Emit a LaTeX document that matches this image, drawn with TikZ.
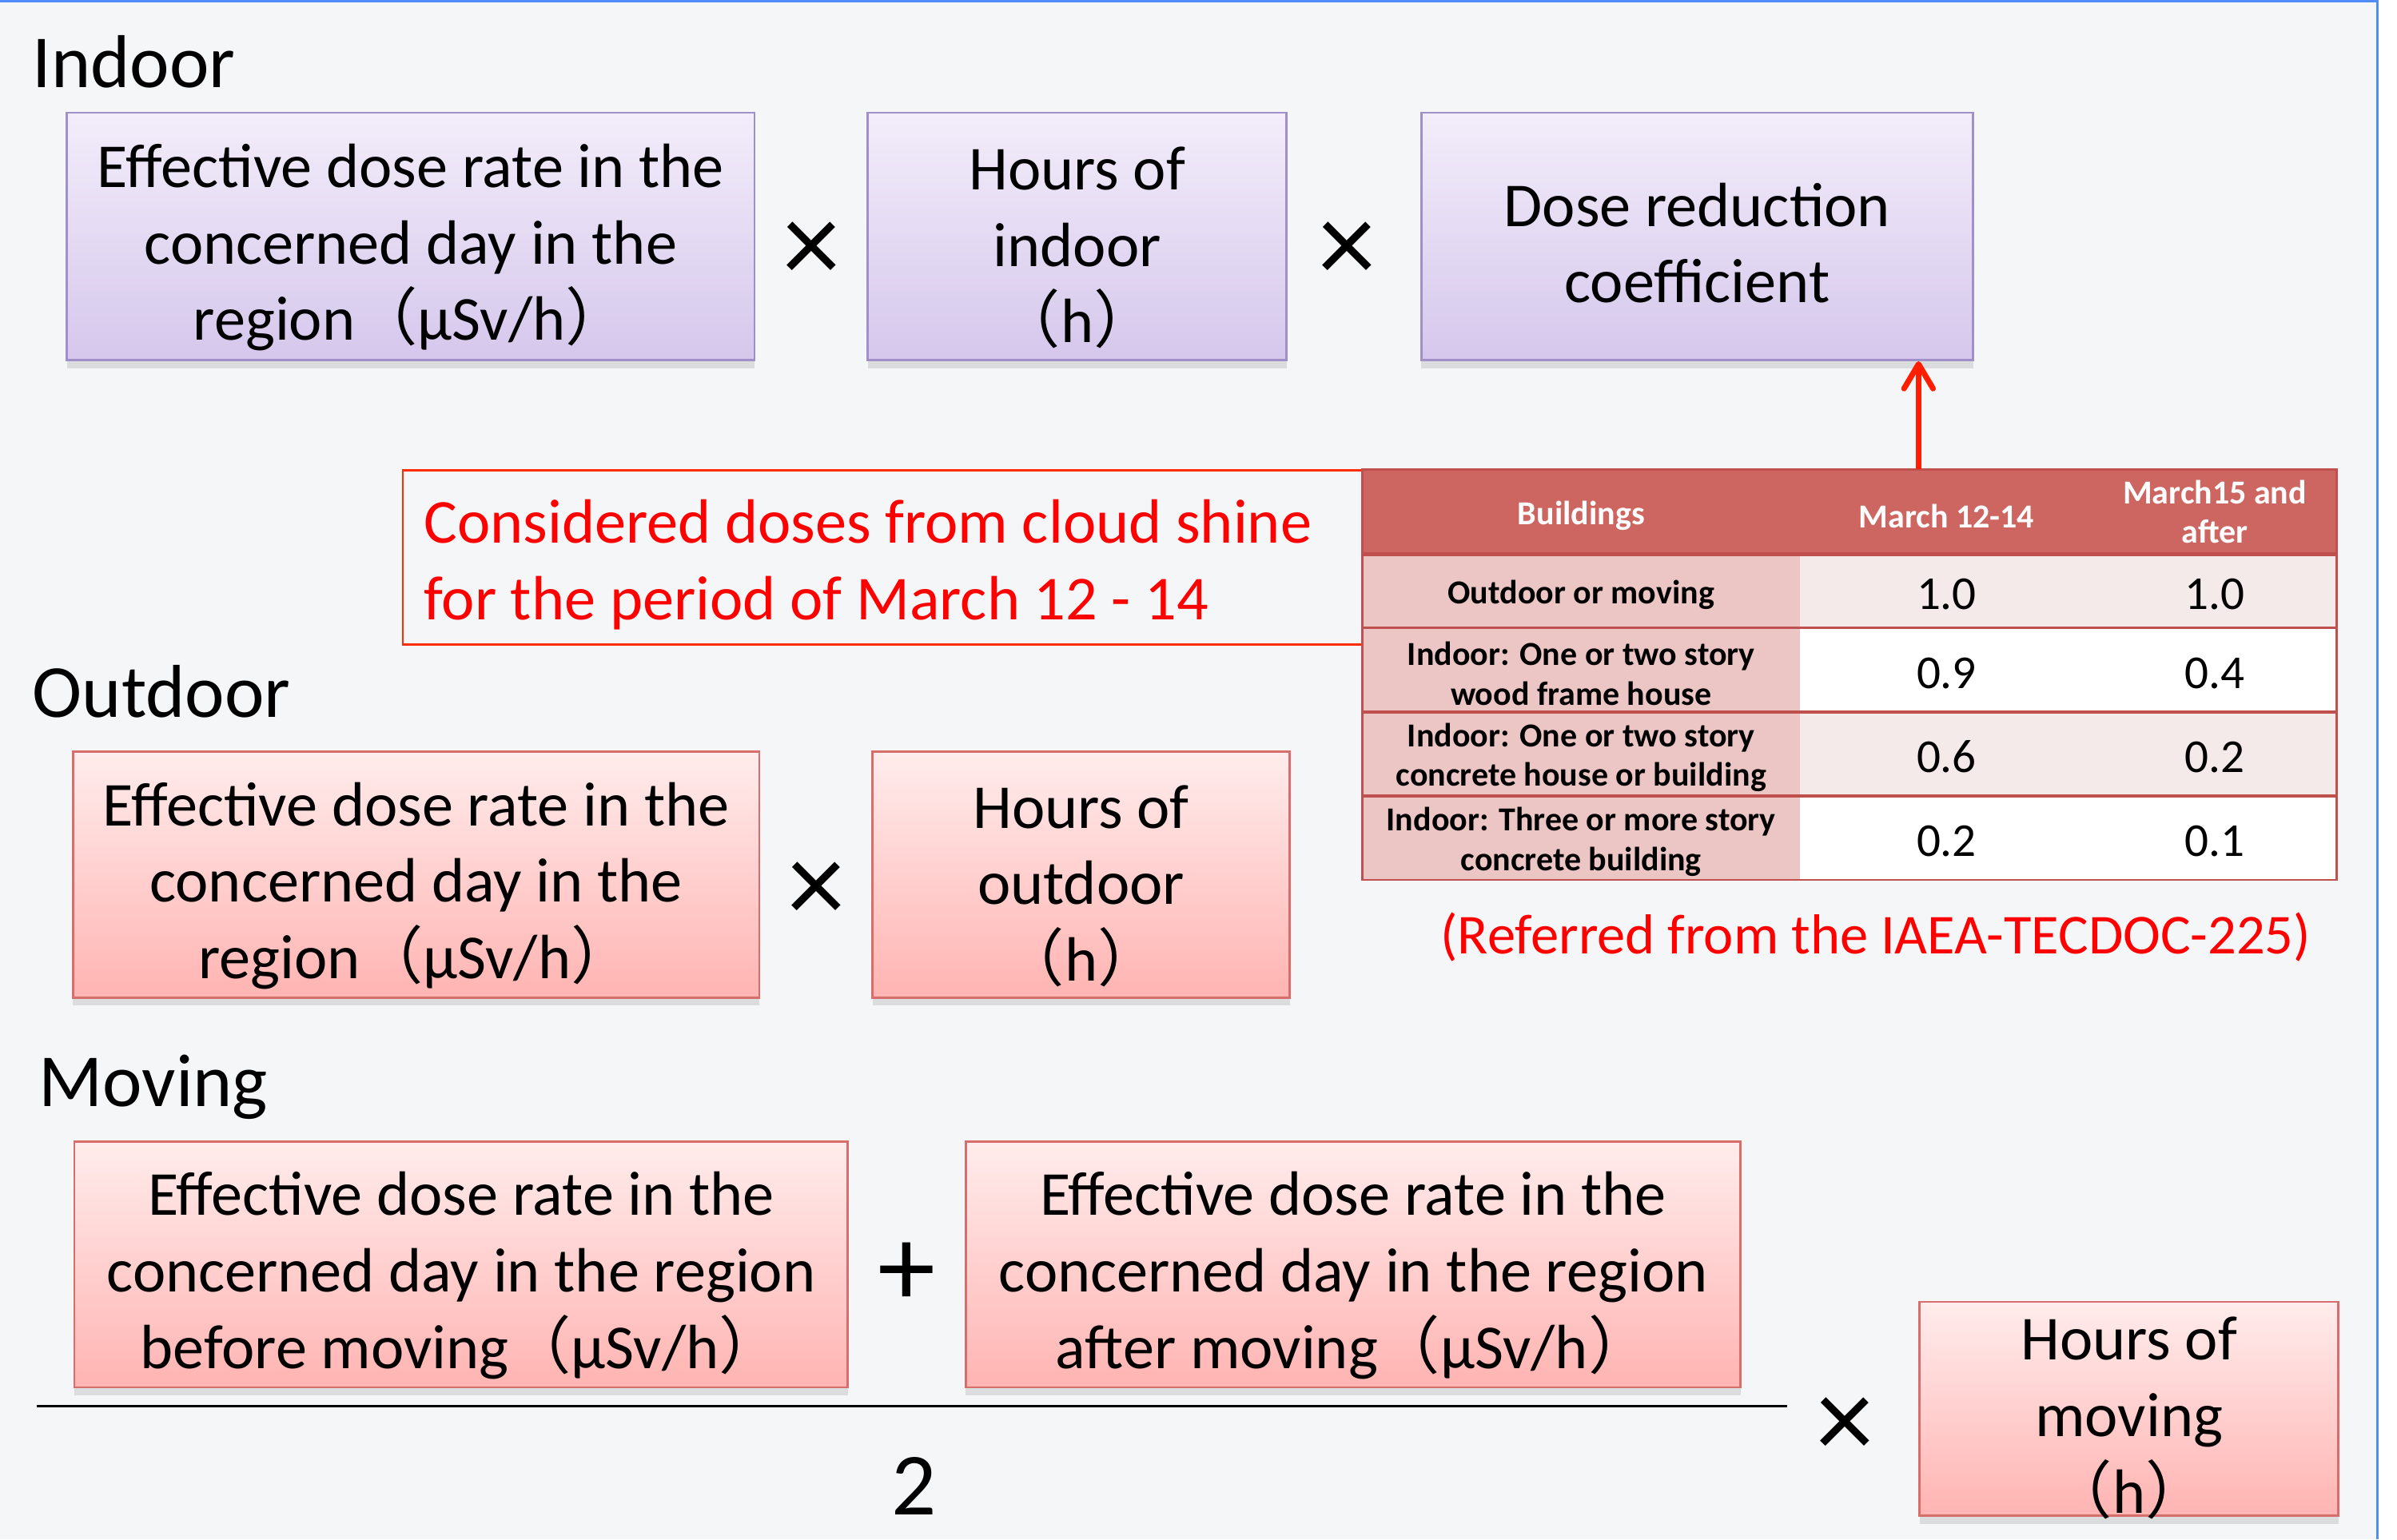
\documentclass[tikz,border=0pt]{standalone}
\usepackage{fontspec}
\setmainfont{Carlito}
\newfontfamily\cjk{Noto Sans CJK JP}
\usetikzlibrary{arrows.meta,shadows}
\definecolor{slidebg}{RGB}{245,246,248}
\definecolor{slideblue}{RGB}{80,140,250}
\definecolor{ptop}{RGB}{243,237,250}
\definecolor{pbot}{RGB}{213,199,236}
\definecolor{pborder}{RGB}{160,143,200}
\definecolor{rtop}{RGB}{255,236,236}
\definecolor{rbot}{RGB}{255,180,178}
\definecolor{rborder}{RGB}{215,110,108}
\definecolor{thead}{RGB}{205,102,97}
\definecolor{tcolone}{RGB}{235,198,197}
\definecolor{tlight}{RGB}{245,234,234}
\definecolor{tline}{RGB}{192,80,77}
\definecolor{notered}{RGB}{255,0,0}
\definecolor{noteborder}{RGB}{255,45,0}
\definecolor{arrowred}{RGB}{255,30,0}
\newcommand\bxfont{\fontsize{23.3}{28.45}\selectfont}
\newcommand\lblfont{\fontsize{27.9}{33}\selectfont}
\newcommand\tblfont{\fontsize{12.5}{14.8}\selectfont\bfseries}
\newcommand\numfont{\fontsize{17.6}{20}\selectfont}
\newcommand\reffont{\fontsize{21}{25}\selectfont}
\newcommand\opfont{\fontsize{43}{50}\selectfont}
\newcommand\twofont{\fontsize{33}{40}\selectfont}
\newcommand\lp{{\cjk （}}
\newcommand\rp{{\cjk ）}}
\newcommand\tstrut{\rule{0pt}{1.05em}}
\newcommand\sstrut{\rule{0pt}{0.9em}}
\newcommand\nstrut{\rule{0pt}{0.82em}}
\newcommand\cstrut{\rule{0pt}{0.95em}}
\begin{document}
\begin{tikzpicture}[x=0.02cm,y=-0.02cm,
  boxbase/.style={anchor=north west, inner sep=0pt, align=center, font=\bxfont, line width=0.8pt,
    drop shadow={shadow xshift=0pt, shadow yshift=-3pt, opacity=0.22}},
  pbox/.style={boxbase, draw=pborder, top color=ptop, bottom color=pbot},
  rbox/.style={boxbase, draw=rborder, top color=rtop, bottom color=rbot},
  secl/.style={anchor=base west, inner sep=0pt, font=\lblfont},
  opsign/.style={inner sep=0pt, font=\opfont},
  cell/.style={anchor=north west, inner sep=0pt, align=center, font=\tblfont},
  numcell/.style={anchor=north west, inner sep=0pt, align=center, font=\numfont},
  tsep/.style={draw=tline, line width=1.1pt},
  redarrow/.style={draw=arrowred, line width=2.1pt,
    -{Straight Barb[length=0.32cm, width=0.38cm, line cap=round, line join=round]}},
  fracline/.style={draw=black, line width=1.1pt}
]
\useasboundingbox (0,0) rectangle (1568,1007);
\fill[white] (0,0) rectangle (1568,1007);
\fill[slidebg] (0,0) rectangle (1555,1007);
\draw[slideblue, line width=0.9pt] (0,0.6) -- (1555,0.6) -- (1555,1007);

% section labels
\node[secl] (lin) at (21,57) {Indoor};
\node[secl] (lout) at (21,469) {Outdoor};
\node[secl] (lmv) at (25,724) {Moving};

% indoor row
\node[pbox, minimum width=9.0cm, minimum height=3.24cm] (in1) at (43,73)
  {\tstrut Effective dose rate in the\\concerned day in the\\region\lp μSv/h\rp};
\node[opsign] (x1) at (531,165) {×};
\node[pbox, minimum width=5.48cm, minimum height=3.24cm] (in2) at (567,73)
  {\tstrut Hours of\\indoor\\\lp h\rp};
\node[opsign] (x2) at (881,165) {×};
\node[pbox, minimum width=7.22cm, minimum height=3.24cm] (in3) at (929,73)
  {\sstrut Dose reduction\\coefficient};

% note box
\node[anchor=north west, draw=noteborder, line width=0.7pt, fill=slidebg, inner sep=0pt,
  minimum width=12.56cm, minimum height=2.28cm] (note) at (263,307) {};
\node[anchor=west, xshift=0.28cm, yshift=-0.1cm, inner sep=0pt, align=left, font=\bxfont, text=notered]
  (notetxt) at (note.west) {Considered doses from cloud shine\\for the period of March 12 - 14};

% table
\node[cell, fill=thead, text=white, minimum width=5.72cm, minimum height=1.1cm] (h1) at (891,307) {\cstrut Buildings};
\node[cell, fill=thead, text=white, minimum width=3.84cm, minimum height=1.1cm] (h2) at (1177,307) {\cstrut March 12-14};
\node[cell, fill=thead, text=white, minimum width=3.18cm, minimum height=1.1cm] (h3) at (1369,307) {March15 and\\after};

\node[cell, fill=tcolone, minimum width=5.72cm, minimum height=0.96cm] (r1a) at (891,362) {\cstrut Outdoor or moving};
\node[numcell, fill=tlight, minimum width=3.84cm, minimum height=0.96cm] (r1b) at (1177,362) {\nstrut 1.0};
\node[numcell, fill=tlight, minimum width=3.18cm, minimum height=0.96cm] (r1c) at (1369,362) {\nstrut 1.0};

\node[cell, fill=tcolone, minimum width=5.72cm, minimum height=1.1cm] (r2a) at (891,410) {\cstrut Indoor: One or two story\\wood frame house};
\node[numcell, fill=white, minimum width=3.84cm, minimum height=1.1cm] (r2b) at (1177,410) {\nstrut 0.9};
\node[numcell, fill=white, minimum width=3.18cm, minimum height=1.1cm] (r2c) at (1369,410) {\nstrut 0.4};

\node[cell, fill=tcolone, minimum width=5.72cm, minimum height=1.1cm] (r3a) at (891,465) {\cstrut Indoor: One or two story\\concrete house or building};
\node[numcell, fill=tlight, minimum width=3.84cm, minimum height=1.1cm] (r3b) at (1177,465) {\nstrut 0.6};
\node[numcell, fill=tlight, minimum width=3.18cm, minimum height=1.1cm] (r3c) at (1369,465) {\nstrut 0.2};

\node[cell, fill=tcolone, minimum width=5.72cm, minimum height=1.1cm] (r4a) at (891,520) {\cstrut Indoor: Three or more story\\concrete building};
\node[numcell, fill=white, minimum width=3.84cm, minimum height=1.1cm] (r4b) at (1177,520) {\nstrut 0.2};
\node[numcell, fill=white, minimum width=3.18cm, minimum height=1.1cm] (r4c) at (1369,520) {\nstrut 0.1};

\draw[tsep, line width=1.5pt] (h1.south west) -- (h3.south east);
\draw[tsep] (r1a.south west) -- (r1c.south east);
\draw[tsep] (r2a.south west) -- (r2c.south east);
\draw[tsep] (r3a.south west) -- (r3c.south east);
\draw[tsep, line width=0.8pt] (h1.north west) rectangle (r4c.south east);

% arrow from table to coefficient box
\coordinate (arrX) at (1255,0);
\draw[redarrow] (arrX |- h2.north) -- (in3.south -| arrX);

\node[font=\reffont, text=notered, inner sep=0pt] (ref) at (1227,613) {(Referred from the IAEA-TECDOC-225)};

% outdoor row
\node[rbox, minimum width=8.98cm, minimum height=3.22cm] (out1) at (47,491)
  {\tstrut Effective dose rate in the\\concerned day in the\\region\lp μSv/h\rp};
\node[opsign] (x3) at (534,584) {×};
\node[rbox, minimum width=5.46cm, minimum height=3.22cm] (out2) at (570,491)
  {\tstrut Hours of\\outdoor\\\lp h\rp};

% moving row
\node[rbox, minimum width=10.12cm, minimum height=3.22cm] (mv1) at (48,746)
  {\tstrut Effective dose rate in the\\concerned day in the region\\before moving\lp μSv/h\rp};
\node[opsign] (plus) at (593,834) {+};
\node[rbox, minimum width=10.14cm, minimum height=3.22cm] (mv2) at (631,746)
  {\tstrut Effective dose rate in the\\concerned day in the region\\after moving\lp μSv/h\rp};
\coordinate (fl) at (24,920);
\coordinate (fr) at (1169,920);
\draw[fracline] (fl) -- (fr);
\node[font=\twofont, inner sep=0pt] (two) at (598,972) {2};
\node[opsign] (x4) at (1207,934) {×};
\node[rbox, minimum width=5.48cm, minimum height=2.8cm] (mv3) at (1255,851) {};
\node[align=center, font=\bxfont, inner sep=0pt, yshift=-0.12cm] (mv3t) at (mv3.center)
  {Hours of\\moving\\\lp h\rp};
\end{tikzpicture}
\end{document}
